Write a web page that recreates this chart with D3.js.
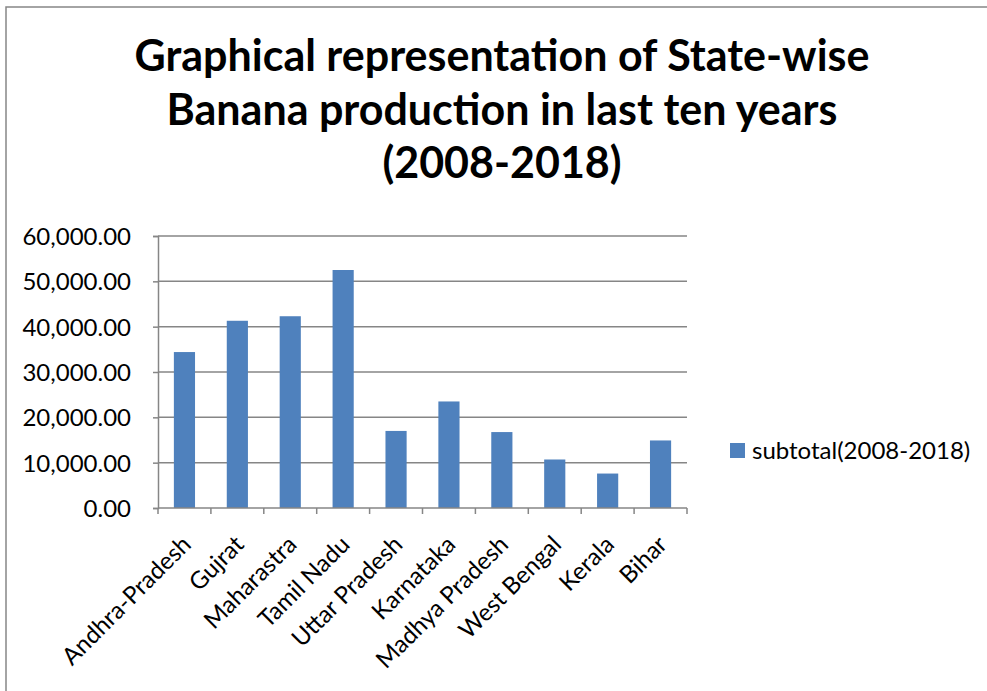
<!DOCTYPE html>
<html>
<head>
<meta charset="utf-8">
<script src="https://cdn.jsdelivr.net/npm/d3@7"></script>
<style>
  body { margin: 0; background: #fff; }
  text { font-family: Lato, "Open Sans", sans-serif; fill: #000; }
</style>
</head>
<body>
<div id="graphics"></div>
<script>
// data
const states = ['Andhra-Pradesh', 'Gujrat', 'Maharastra', 'Tamil Nadu', 'Uttar Pradesh',
  'Karnataka', 'Madhya Pradesh', 'West Bengal', 'Kerala', 'Bihar'];
const subtotal = [34400, 41300, 42300, 52500, 17000, 23500, 16750, 10700, 7600, 14900];
const yTicks = [0, 10000, 20000, 30000, 40000, 50000, 60000];
const titleLines = ['Graphical representation of State-wise', 'Banana production in last ten years', '(2008-2018)'];
const seriesName = 'subtotal(2008-2018)';

const W = 987, H = 691;
const margin = { top: 236, left: 158, right: 300, bottom: 183 };
const width = W - margin.left - margin.right;
const height = H - margin.top - margin.bottom;

const root = d3.select('#graphics').append('svg')
  .attr('width', W).attr('height', H);

// chart frame
root.append('rect')
  .attr('x', 6).attr('y', 7)
  .attr('width', W + 10).attr('height', H + 10)
  .attr('fill', 'none').attr('stroke', '#868686').attr('stroke-width', 1.5);

// title
root.append('g').selectAll('text')
  .data(titleLines).join('text')
  .attr('x', 502)
  .attr('y', (d, i) => 71 + i * 53.5)
  .attr('text-anchor', 'middle')
  .attr('font-weight', 'bold')
  .attr('font-size', 43)
  .text(d => d);

const svg = root.append('g')
  .attr('transform', 'translate(' + margin.left + ',' + margin.top + ')');

const x = d3.scaleBand().domain(states).range([0, width]).paddingInner(0.6).paddingOuter(0.3);
const xCat = d3.scaleBand().domain(states).range([0, width]);
const y = d3.scaleLinear().domain([0, 60000]).range([height, 0]);

// gridlines
svg.append('g').selectAll('line')
  .data(yTicks.slice(1)).join('line')
  .attr('x1', 0).attr('x2', width)
  .attr('y1', d => y(d)).attr('y2', d => y(d))
  .attr('stroke', '#868686').attr('stroke-width', 1.5);

// bars
svg.append('g').selectAll('rect')
  .data(states).join('rect')
  .attr('x', d => x(d))
  .attr('y', (d, i) => y(subtotal[i]))
  .attr('width', x.bandwidth())
  .attr('height', (d, i) => height - y(subtotal[i]))
  .attr('fill', '#4F81BD');

// y axis
const yAxis = svg.append('g')
  .call(d3.axisLeft(y).tickValues(yTicks).tickSize(5).tickPadding(22)
    .tickFormat(d3.format(',.2f')));
yAxis.select('.domain').attr('stroke', '#868686').attr('stroke-width', 1.5);
yAxis.selectAll('.tick line').attr('stroke', '#868686').attr('stroke-width', 1.5);
yAxis.selectAll('.tick text')
  .attr('font-family', 'Lato, sans-serif').attr('font-size', 24).attr('fill', '#000')
  .attr('dy', '0.36em');

// x axis: ticks at category boundaries
const xAxisG = svg.append('g').attr('transform', 'translate(0,' + height + ')');
xAxisG.append('line')
  .attr('x1', 0).attr('x2', width)
  .attr('stroke', '#868686').attr('stroke-width', 1.5);
xAxisG.selectAll('.xtick')
  .data(states.concat(['__end'])).join('line')
  .attr('class', 'xtick')
  .attr('x1', (d, i) => i * xCat.step()).attr('x2', (d, i) => i * xCat.step())
  .attr('y1', 0).attr('y2', 6)
  .attr('stroke', '#868686').attr('stroke-width', 1.5);

xAxisG.selectAll('.xlabel')
  .data(states).join('text')
  .attr('class', 'xlabel')
  .attr('text-anchor', 'end')
  .attr('font-size', 24)
  .attr('transform', d => 'translate(' + (xCat(d) + xCat.bandwidth() / 2 + 8) + ',38) rotate(-45)')
  .text(d => d);

// legend
const legend = root.append('g').attr('transform', 'translate(730,443)');
legend.append('rect').attr('width', 15).attr('height', 15).attr('fill', '#4F81BD');
legend.append('text')
  .attr('x', 22).attr('y', 7.5).attr('dy', '0.36em')
  .attr('font-size', 24)
  .text(seriesName);
</script>
</body>
</html>
